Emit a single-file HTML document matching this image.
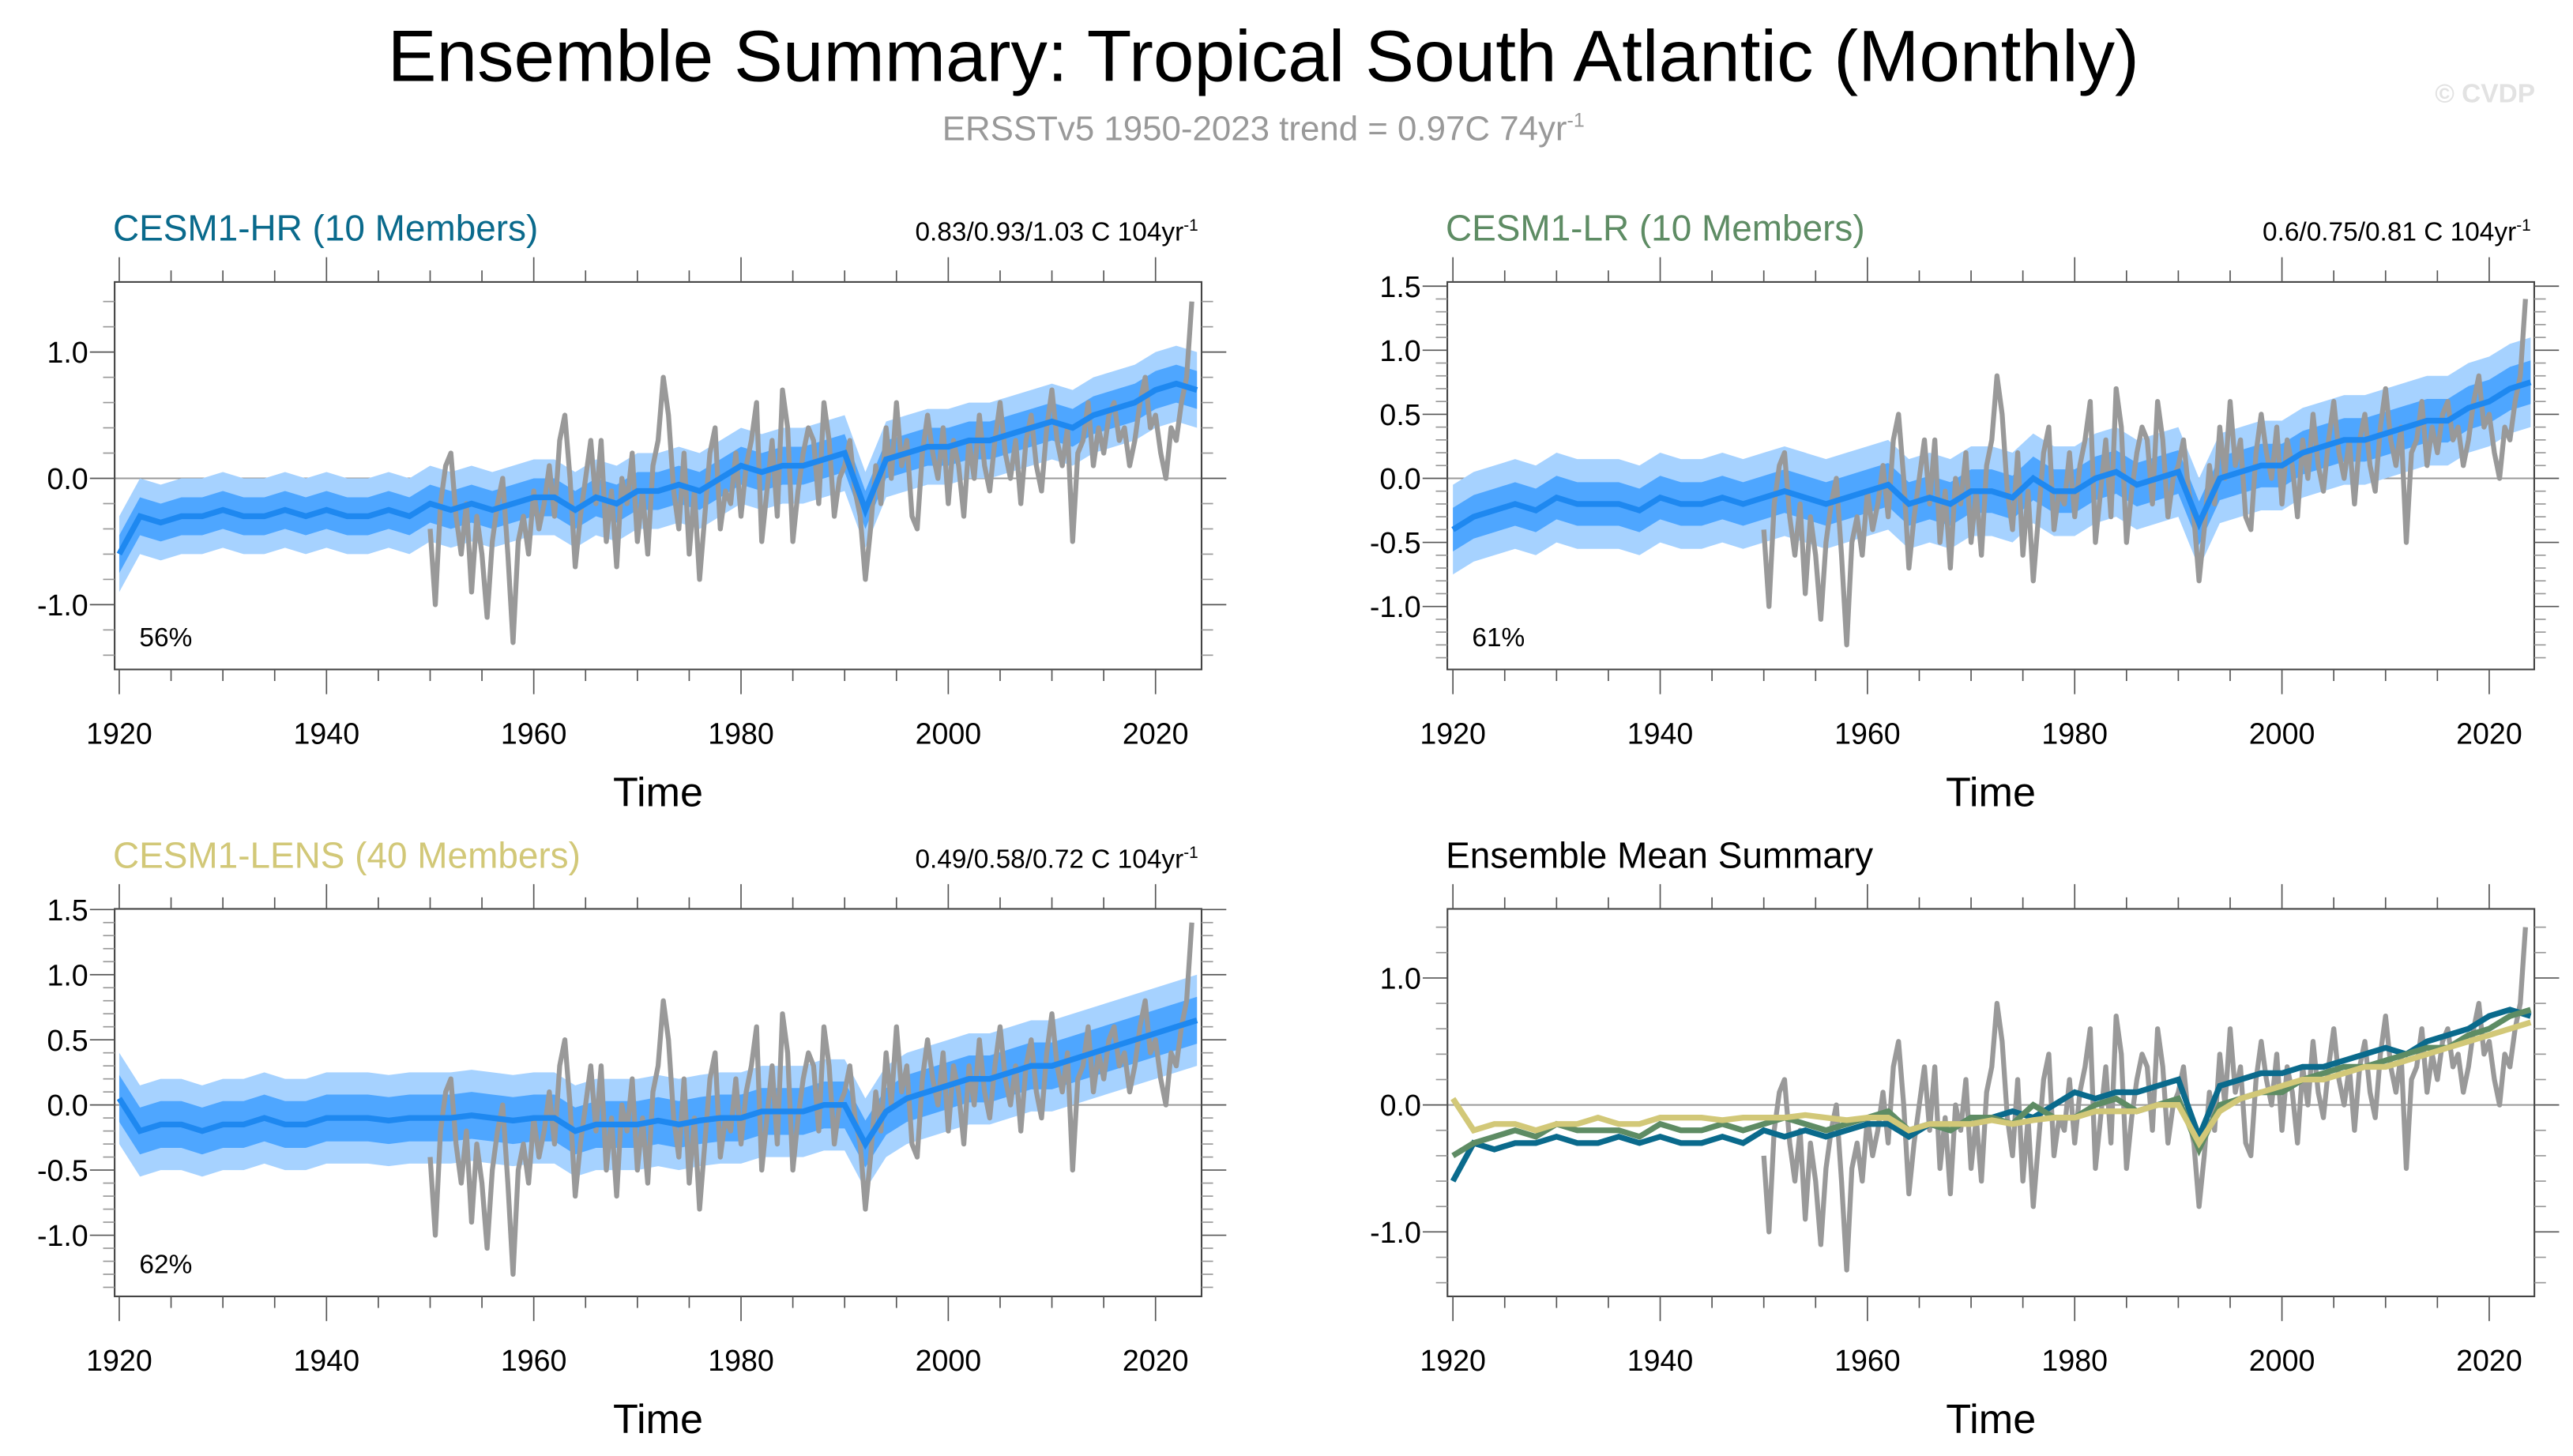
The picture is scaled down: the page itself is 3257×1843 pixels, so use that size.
<!DOCTYPE html>
<html><head><meta charset="utf-8"><style>
html,body{margin:0;padding:0;background:#fff;}
svg{display:block;font-family:"Liberation Sans",sans-serif;}
</style></head><body>
<svg id="chart" width="3257" height="1843" viewBox="0 0 1560 883" preserveAspectRatio="none" xmlns="http://www.w3.org/2000/svg">
<text x="766" y="49" font-size="44" text-anchor="middle" textLength="1062" lengthAdjust="spacingAndGlyphs">Ensemble Summary: Tropical South Atlantic (Monthly)</text>
<text x="766" y="85" font-size="21" fill="#999" text-anchor="middle">ERSSTv5 1950-2023 trend = 0.97C 74yr<tspan dy="-8" font-size="12">-1</tspan></text>
<text x="1537" y="62" font-size="16" fill="#e2e2e2" text-anchor="end" font-weight="bold">© CVDP</text>
</svg>
<script>
// Observations (ERSSTv5), semi-annual samples 1950.0 .. 2023.5
const obsStart = 1950;
const obsValues = [-0.4,-1.0,-0.2,0.1,0.2,-0.3,-0.6,-0.2,-0.9,-0.3,-0.6,-1.1,-0.5,-0.2,0.0,-0.6,-1.3,-0.5,-0.3,-0.6,
-0.1,-0.4,-0.2,0.1,-0.3,0.3,0.5,0.0,-0.7,-0.3,0.0,0.3,-0.2,0.3,-0.5,-0.1,-0.7,0.0,-0.2,0.2,
-0.5,-0.1,-0.6,0.1,0.3,0.8,0.5,-0.1,-0.4,0.2,-0.6,-0.1,-0.8,-0.3,0.2,0.4,-0.4,-0.1,-0.2,0.2,
-0.3,0.1,0.3,0.6,-0.5,-0.1,0.3,-0.3,0.7,0.4,-0.5,-0.1,0.2,0.4,0.3,-0.2,0.6,0.3,-0.3,0.0,
0.1,0.3,-0.1,-0.3,-0.8,-0.4,0.1,-0.2,0.4,0.0,0.6,0.1,0.3,-0.3,-0.4,0.2,0.5,0.2,0.0,0.4,
-0.2,0.3,0.1,-0.3,0.3,0.0,0.5,0.1,-0.1,0.3,0.6,0.2,0.0,0.3,-0.2,0.3,0.5,0.1,-0.1,0.4,
0.7,0.3,0.1,0.4,-0.5,0.2,0.3,0.6,0.1,0.4,0.2,0.5,0.6,0.3,0.4,0.1,0.3,0.6,0.8,0.4,
0.5,0.2,0.0,0.4,0.3,0.6,0.8,1.4];
// Ensemble means, every 2 years 1920..2024
const ensStart = 1920;
const hrMean = [-0.6,-0.3,-0.35,-0.3,-0.3,-0.25,-0.3,-0.3,-0.25,-0.3,-0.25,-0.3,-0.3,-0.25,-0.3,-0.2,-0.25,-0.2,-0.25,-0.2,-0.15,-0.15,-0.25,-0.15,-0.2,-0.1,-0.1,-0.05,-0.1,0.0,0.1,0.05,0.1,0.1,0.15,0.2,-0.25,0.15,0.2,0.25,0.25,0.3,0.3,0.35,0.4,0.45,0.4,0.5,0.55,0.6,0.7,0.75,0.7];
const lrMean = [-0.4,-0.3,-0.25,-0.2,-0.25,-0.15,-0.2,-0.2,-0.2,-0.25,-0.15,-0.2,-0.2,-0.15,-0.2,-0.15,-0.1,-0.15,-0.2,-0.15,-0.1,-0.05,-0.2,-0.15,-0.2,-0.1,-0.1,-0.15,0.0,-0.1,-0.1,0.0,0.05,-0.05,0.0,0.05,-0.35,0.0,0.05,0.1,0.1,0.2,0.25,0.3,0.3,0.35,0.4,0.45,0.45,0.55,0.6,0.7,0.75];
const lensMean = [0.05,-0.2,-0.15,-0.15,-0.2,-0.15,-0.15,-0.1,-0.15,-0.15,-0.1,-0.1,-0.1,-0.12,-0.1,-0.1,-0.1,-0.08,-0.1,-0.12,-0.1,-0.1,-0.2,-0.15,-0.15,-0.15,-0.12,-0.15,-0.12,-0.1,-0.1,-0.05,-0.05,-0.05,0.0,0.0,-0.3,-0.05,0.05,0.1,0.15,0.2,0.2,0.25,0.3,0.3,0.35,0.4,0.45,0.5,0.55,0.6,0.65];
const spreadOuter = [0.3,0.35,0.35];
const spreadInner = [0.15,0.17,0.18];
const xTickYears = [1920,1940,1960,1980,2000,2020];
const yTicksA = ["-1.0","0.0","1.0"];
const yTicksB = ["-1.0","-0.5","0.0","0.5","1.0","1.5"];

const NS="http://www.w3.org/2000/svg";
const svg=document.getElementById('chart');
function el(tag,attrs,parent){const e=document.createElementNS(NS,tag);for(const k in attrs)e.setAttribute(k,attrs[k]);(parent||svg).appendChild(e);return e;}

function panel(cfg){
  const g=el('g',{});
  
  
  const W=659,H=235;
  const L=cfg.x0,R=cfg.x0+W,T=cfg.y0,B=cfg.y0+H;
  const xs=y=>cfg.x1920+(y-1920)*6.283;
  const ys=v=>cfg.zeroY-v*cfg.pxUnit;
  el('line',{x1:L,x2:R,y1:ys(0),y2:ys(0),stroke:'#999','stroke-width':1},g);
  if(cfg.mean){
    [[spreadOuter[cfg.idx],'#a6d2ff'],[spreadInner[cfg.idx],'#4ea6ff']].forEach(([s,c])=>{
      let up=[],dn=[];
      cfg.mean.forEach((v,i)=>{const x=xs(ensStart+i*2);up.push(x+','+ys(v+s));dn.unshift(x+','+ys(v-s));});
      const p=el('polygon',{points:up.concat(dn).join(' '),fill:c},g);
      
      
    });
  }
  const op=obsValues.map((v,i)=>xs(obsStart+i*0.5)+','+ys(v)).join(' ');
  const ol=el('polyline',{points:op,fill:'none',stroke:'#999','stroke-width':3,'stroke-linejoin':'round'},g);
  
  
  if(cfg.mean){
    const ml=el('polyline',{points:cfg.mean.map((v,i)=>xs(ensStart+i*2)+','+ys(v)).join(' '),fill:'none',stroke:'#1e88f0','stroke-width':3.5},g);
    
    
  }
  if(cfg.multi){
    [[hrMean,'#0a6a8c','hr-mean-line'],[lrMean,'#5e8c64','lr-mean-line'],[lensMean,'#d2c878','lens-mean-line']].forEach(([arr,c,n])=>{
      const ml=el('polyline',{points:arr.map((v,i)=>xs(ensStart+i*2)+','+ys(v)).join(' '),fill:'none',stroke:c,'stroke-width':3.5},g);
      
      
    });
  }
  el('rect',{x:L,y:T,width:W,height:H,fill:'none',stroke:'#444','stroke-width':1},g);
  for(let y=1920;y<=2024;y+=5){
    const x=xs(y);const maj=y%20===0;
    el('line',{x1:x,x2:x,y1:B,y2:B+(maj?15:7),stroke:'#555','stroke-width':0.8},g);
    el('line',{x1:x,x2:x,y1:T,y2:T-(maj?15:7),stroke:'#555','stroke-width':0.8},g);
  }
  xTickYears.forEach(y=>{
    const t=el('text',{x:xs(y),y:B+45,'font-size':18,'text-anchor':'middle'},g);t.textContent=y;
    
    
  });
  const tt=el('text',{x:(L+R)/2,y:B+83,'font-size':25,'text-anchor':'middle'},g);tt.textContent='Time';
  
  
  const step=cfg.minorStep;
  for(let k=-20;k<=20;k++){
    const v=k*step;const y=ys(v);if(y<T-0.5||y>B+0.5)continue;
    const maj=cfg.yLabels.some(s=>Math.abs(parseFloat(s)-v)<1e-6);
    el('line',{x1:L-(maj?15:7),x2:L,y1:y,y2:y,stroke:maj?'#555':'#999','stroke-width':0.8},g);
    el('line',{x1:R,x2:R+(maj?15:7),y1:y,y2:y,stroke:maj?'#555':'#999','stroke-width':0.8},g);
  }
  cfg.yLabels.forEach(s=>{
    const t=el('text',{x:L-16,y:ys(parseFloat(s))+6.5,'font-size':18,'text-anchor':'end'},g);t.textContent=s;
    
    
  });
  const ti=el('text',{x:L-1,y:T-25,'font-size':22,fill:cfg.color},g);ti.textContent=cfg.title;
  
  
  if(cfg.trend){
    const tr=el('text',{x:R-2,y:T-25,'font-size':16,'text-anchor':'end'},g);
    tr.innerHTML=cfg.trend+' C 104yr<tspan dy="-6" font-size="10">-1</tspan>';
    
    
  }
  if(cfg.pct){
    const pc=el('text',{x:L+15,y:B-14,'font-size':16},g);pc.textContent=cfg.pct;
    
    
  }
}
panel({name:'panel-cesm1-hr',idx:0,x0:69.5,y0:171,x1920:72.3,zeroY:290.1,pxUnit:76.6,minorStep:0.2,mean:hrMean,yLabels:yTicksA,title:'CESM1-HR (10 Members)',color:'#0a6a8c',trend:'0.83/0.93/1.03',pct:'56%'});
panel({name:'panel-cesm1-lr',idx:1,x0:877.5,y0:171,x1920:880.9,zeroY:290.1,pxUnit:77.7,minorStep:0.1,mean:lrMean,yLabels:yTicksB,title:'CESM1-LR (10 Members)',color:'#5e8c64',trend:'0.6/0.75/0.81',pct:'61%'});
panel({name:'panel-cesm1-lens',idx:2,x0:69.5,y0:551.2,x1920:72.3,zeroY:670.1,pxUnit:79,minorStep:0.1,mean:lensMean,yLabels:yTicksB,title:'CESM1-LENS (40 Members)',color:'#d2c878',trend:'0.49/0.58/0.72',pct:'62%'});
panel({name:'panel-ensemble-mean-summary',idx:0,x0:877.6,y0:551.2,x1920:880.9,zeroY:670.1,pxUnit:77,minorStep:0.2,multi:true,yLabels:yTicksA,title:'Ensemble Mean Summary',color:'#000'});
</script>
</body></html>
